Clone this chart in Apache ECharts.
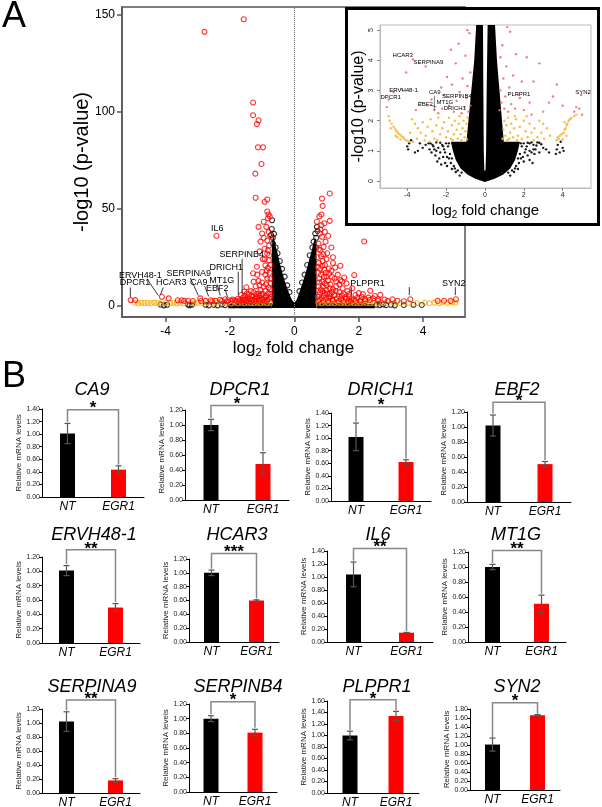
<!DOCTYPE html>
<html><head><meta charset="utf-8">
<script src="https://cdn.jsdelivr.net/npm/echarts@6/dist/echarts.min.js"></script>
<style>
html,body{margin:0;padding:0;background:#fff;}
#main{position:absolute;left:0;top:0;width:602px;height:807px;}
#inset{position:absolute;left:345px;top:7px;width:249px;height:213px;border:3px solid #000;background:#fff;}
</style></head><body>
<div id="main"></div><div id="inset"></div>
<script>
const FF = 'Liberation Sans, Arial, sans-serif';

// ---------- Panel A: main volcano (log2 FC, -log10 p) ----------
const mainXTicks = [-4, -2, 0, 2, 4];
const mainYTicks = [0, 50, 100, 150];
// dense black core regions (envelopes)
const mainCoreV = [[-0.7,-1.2],[-0.7,29],[-0.68,34],[-0.65,36],[-0.6,32],[-0.52,27],[-0.45,22],[-0.38,17.5],[-0.3,13],[-0.22,9],[-0.14,5.5],[-0.07,3],[0,1.5],[0.07,3],[0.14,6],[0.22,10],[0.3,14],[0.38,18.5],[0.46,23.5],[0.54,28.5],[0.6,32.5],[0.65,35],[0.69,32],[0.69,-1.2]];
const mainBandL = [[-2.05,-1.3],[-2.05,0.9],[-0.7,1.3],[-0.7,-1.3]];
const mainBandR = [[0.7,-1.3],[0.7,1.3],[2.5,0.9],[2.5,-1.3]];
const mainBlack = [[-0.69,44],[-0.63,37],[-0.67,35],[-0.7,39.5],[-0.66,32],[-0.58,30],[-0.52,27],[-0.45,23],[-0.38,19],[-0.3,15],[-0.22,10.5],[-0.15,7],[-0.72,36.5],
[0.7,40.6],[0.65,37.2],[0.6,33],[0.68,35],[0.72,38.5],[0.56,30],[0.48,26],[0.4,21],[0.32,16],[0.24,12],[0.16,7.5],[0.67,30],
[-4.15,0.6],[-4.05,0.2],[-3.95,0.5],[-3.3,0.6],[-3.25,0.2],[-3.18,0.5],[-2.75,0.5],[-2.65,0.2],[-2.5,0.5],[-2.38,0.2],[-2.25,0.6],[-2.15,0.3],
[2.55,0.5],[2.65,0.3],[2.75,0.6],[2.85,0.3],[3.0,0.5],[3.12,0.2],[3.4,0.4],[3.7,0.5],[3.96,0.4]];
const mainOrange = [[-4.95,1.5],[-4.85,1.3],[-4.75,1.6],[-4.65,1.4],[-4.55,1.5],[-4.45,1.3],[-4.35,1.6],[-4.25,1.4],[-4.15,1.2],[-4.0,1.5],[-3.85,1.3],[-3.75,1.5],[-3.65,1.2],[-3.55,1.5],[-3.45,1.3],[-3.2,1.4],[-3.1,1.2],[-3.0,1.5],[-2.85,1.3],[-2.7,1.5],[-2.55,1.2],[-2.4,1.5],[-2.25,1.3],[-2.1,1.5],[-1.95,1.2],[-1.85,1.6],[-1.75,1.3],[-1.65,1.5],[-1.55,1.3],[-1.45,1.6],[-1.35,1.4],[-1.25,1.3],[-1.15,1.5],[-1.05,1.3],[-0.95,1.6],[-0.85,1.4],[-0.75,1.5],
[0.75,1.5],[0.85,1.3],[0.95,1.6],[1.05,1.4],[1.15,1.5],[1.25,1.3],[1.35,1.6],[1.45,1.4],[1.55,1.5],[1.65,1.3],[1.75,1.6],[1.85,1.4],[1.95,1.5],[2.05,1.3],[2.15,1.6],[2.25,1.4],[2.35,1.3],[2.45,1.5],[2.6,1.3],[2.75,1.5],[2.9,1.3],[3.1,1.5],[3.3,1.3],[3.55,1.5],[3.8,1.3],[4.05,1.5],[4.2,1.3],[4.35,1.6],[4.5,1.4],[4.6,1.7],[4.75,1.5],[4.9,1.8],[5.0,1.6]];
const mainRed = [[-1.57,147.5],[-2.79,141],[-1.28,104.6],[-1.28,98.1],[-1.16,93.5],[-1.11,95.5],[-1.13,81.6],[-0.97,81.6],[-1.02,73],[-1.21,68],[-1.2,55.6],[-0.92,53.5],[-0.84,54.7],[-0.84,48.5],[-0.8,47],[-0.76,46],[-0.82,45],[-0.95,43.2],[-1.11,40.6],[-0.87,40.6],[-1.0,37.2],[-0.95,35],[-0.84,33.6],[-0.78,31],[-0.92,29.3],[-0.84,26.8],[-0.79,23.4],[-0.9,20.8],[-1.0,17.4],[-1.16,20.1],[-1.28,16.7],[-1.26,12.4],[-1.11,12.8],[-0.84,14.1],[-0.73,11.5],[-0.95,9.8],[-1.05,8.1],[-1.1,6.3],[-1.49,9.5],[-1.55,7.3],[-2.42,36],[-1.47,6.3],
[-0.75,8.5],[-0.8,6.5],[-0.88,5],[-0.95,4],[-1.02,5.5],[-1.15,4.5],[-1.22,3.5],[-1.3,5],[-1.38,3.5],[-1.45,4.5],[-1.52,3.2],[-1.6,4],[-1.68,3],[-0.78,3.5],[-0.85,2.5],[-0.92,2.5],[-1.0,2.8],[-1.08,2.4],[-1.18,2.6],[-1.25,2.2],[-1.35,2.4],[-1.42,2.3],[-1.5,2.4],[-1.6,2.2],[-0.76,17],[-0.86,18],[-0.98,24],[-1.08,28],[-0.8,38],[-0.75,36],[-1.05,33],[-0.88,11],[-1.2,10],[-1.35,7.5],[-0.82,28.5],
[-0.72,6],[-0.74,4.5],[-0.8,9.5],[-0.9,7.5],[-0.98,6.2],[-1.08,5.2],[-1.18,6],[-1.27,7],[-1.4,5.8],[-1.55,5.2],[-1.65,5.5],[-0.83,3.2],[-0.9,4.2],[-1.0,3.5],[-1.1,3.2],[-1.2,4.4],[-1.3,3.0],[-1.45,3.0],[-1.58,2.9],[-0.74,21],[-0.78,26],[-0.74,14],[-0.82,19.5],[-0.9,16],[-0.92,24],[-1.0,12],[-1.08,10.5],[-1.15,16],[-1.7,2.3],[-1.75,3.6],[-1.92,3.2],[-2.1,2.3],[-2.25,2.4],[-2.55,2.3],[-2.9,2.4],[-3.15,2.4],[-3.3,2.6],
[-5.08,2.9],[-4.94,2.9],[-4.11,4.6],[-3.9,3.8],[-3.62,2.8],[-3.5,2.8],[-3.42,2.5],[-2.92,3.8],[-2.75,2.5],[-2.6,2.8],[-2.45,2.5],[-2.3,3.1],[-2.15,3.3],[-2.05,2.8],[-1.95,2.5],[-1.85,2.8],[-1.78,2.4],
[1.1,57.8],[0.86,55.2],[0.88,51.4],[0.84,47],[0.7,43.2],[0.84,41.5],[0.93,42.5],[1.1,43.7],[0.81,39.3],[0.79,37.2],[0.86,35.5],[2.17,33.1],[0.75,32],[0.81,28.6],[0.91,30.3],[1.02,27],[1.27,19.7],[1.43,20.6],[1.07,19.2],[1.86,15.8],[1.43,13.2],[1.17,14.9],[2.36,7.7],[2.67,5.6],[2.13,6],[1.77,3.3],[3.6,3.3],[2.6,3.3],[2.8,3.2],[3.05,3.3],[5.02,3.3],[4.85,2.5],[4.65,2.6],[4.45,2.5],
[0.72,25],[0.76,22],[0.8,19],[0.74,17],[0.88,23],[0.95,21],[0.98,17],[0.78,14],[0.86,12.5],[0.92,15],[1.05,13],[1.12,11],[0.75,10],[0.82,8.5],[0.9,9.8],[1.0,8],[1.2,8.5],[1.3,10],[1.4,7],[1.5,9],[1.55,6],[1.25,5.5],[1.1,6],[0.95,6.5],[0.78,5.5],[0.85,4],[0.98,3.5],[1.08,4.2],[1.18,3.2],[1.32,3.8],[1.45,3.3],[1.6,3.5],[1.7,4.5],[1.85,3.2],[1.95,4],[2.05,3],[2.2,3.4],[2.35,3],[2.45,3.8],[0.74,2.8],[0.9,2.6],[1.05,2.4],[1.2,2.5],[1.38,2.3],[1.52,2.5],[1.68,2.3],[1.62,11.5],[1.35,16],[1.2,22],[0.97,33],[1.05,36],[0.78,46],[1.0,24],[1.65,7.5],[1.8,9],[2.0,6.5],[2.5,5],[1.15,30],
[0.73,20],[0.77,12],[0.83,16],[0.87,20.5],[0.93,18.5],[1.0,15],[1.08,16.5],[1.15,18],[1.25,14],[1.3,12.5],[1.4,11],[1.48,12.5],[1.55,14.5],[1.0,10.5],[1.1,9],[1.18,7],[1.28,7.5],[1.38,5],[1.48,5.2],[1.58,4.5],[0.8,7],[0.88,7.5],[0.92,5.2],[1.02,6.2],[1.12,5],[0.73,4.5],[0.79,3.2],[0.95,11.5],[0.83,25.5],[0.9,26.5],[0.76,29],[0.95,38],[1.2,25],[1.7,6],[1.9,5.5],[2.1,4.5],[2.3,4.2],[1.75,2.5],[1.9,2.4],[2.05,2.2],[2.2,2.4],[2.6,2.4],[2.9,2.5],[3.2,2.6],[3.4,2.3]];
// gene annotations: [name, textX, textY, leaderX1, leaderY1, leaderX2, leaderY2]
const mainLabels = [
 ['IL6',-2.39,39.5],
 ['SERPINB4',-1.63,26.3,-1.62,24.2,-1.62,6.5],
 ['DRICH1',-2.11,19.9,-1.74,17.5,-1.74,5.5],
 ['ERVH48-1',-4.78,15.8,-4.57,13.8,-4.22,5.2],
 ['SERPINA9',-3.28,16.8,-3.23,14.3,-2.98,5.3],
 ['MT1G',-2.25,13.2,-2.4,11,-2.3,5.3],
 ['DPCR1',-4.95,11.7,-5.09,9.4,-5.09,4.5],
 ['HCAR3',-3.82,11.7,-4.07,9.3,-4.16,5.6],
 ['CA9',-2.97,12.2,-2.78,10.0,-2.66,4.8],
 ['EBF2',-2.39,9.1,-2.14,8,-2.07,4.3],
 ['PLPPR1',2.27,11.4,1.77,9.6,1.77,5.5],
 ['SYN2',4.95,11.4,5.0,9.6,5.0,5.5],
 ['',3.57,9.6,3.57,9.6,3.57,5.5]
];

// ---------- Inset volcano ----------
const insetXTicks = [-4, -2, 0, 2, 4];
const insetYTicks = [0, 1, 2, 3, 4, 5];
const insetCore = [[0,-0.03],[-0.5,0.08],[-0.9,0.22],[-1.25,0.42],[-1.5,0.7],[-1.65,1.0],[-1.75,1.3],[-0.95,1.3],[-0.85,2.0],[-0.7,3.0],[-0.55,4.0],[-0.45,5.17],[-0.1,5.17],[-0.08,3.0],[-0.06,1.0],[-0.03,0.35],[0.03,0.35],[0.06,1.0],[0.09,3.0],[0.14,5.17],[0.52,5.17],[0.62,4.0],[0.75,3.0],[0.88,2.0],[0.97,1.3],[1.8,1.3],[1.7,1.0],[1.55,0.7],[1.3,0.42],[0.95,0.22],[0.5,0.08]];
const insetBlack = [[-2.9,1.25],[-2.7,1.2],[-2.5,1.28],[-2.6,1.05],[-2.4,1.1],[-2.3,0.95],[-2.2,1.2],[-2.75,0.95],[-2.55,0.85],[-2.35,0.75],[-2.15,0.8],[-2.05,0.6],[-1.95,0.5],[-2.25,0.55],[-1.7,0.4],[-1.5,0.3],[-1.3,0.18],[-3.05,1.2],[-3.2,1.1],[-3.35,1.25],[-3.45,1.0],[-3.6,0.95],[-3.95,1.05],[-4.0,1.15],[-3.9,1.25],[-3.8,1.35],[-2.1,1.05],[-2.45,0.65],[-2.85,1.05],
[-1.8,0.9],[-1.9,1.15],[-2.0,1.25],[-1.75,0.6],[-1.6,0.5],[-1.85,0.75],[-2.15,1.15],[-2.3,1.27],[-2.05,0.95],[-1.95,0.8],[-2.5,1.0],[-2.65,1.15],[-2.8,1.25],[-1.4,0.35],[-1.55,0.42],[-1.2,0.28],[-1.85,1.25],[-1.7,0.75],
[2.3,1.25],[2.5,1.2],[2.7,1.28],[2.9,1.22],[3.0,1.1],[2.6,1.05],[2.4,0.95],[2.2,0.85],[2.0,0.65],[2.3,0.7],[2.55,0.9],[2.8,0.95],[3.15,1.05],[3.3,0.95],[3.65,0.9],[3.7,1.05],[3.75,1.2],[3.85,0.95],[4.0,1.1],[4.05,1.0],[3.9,1.3],[1.7,0.4],[1.5,0.3],[1.3,0.18],[2.1,1.05],[2.45,0.6],
[1.8,0.9],[1.9,1.15],[2.0,1.25],[1.75,0.6],[1.6,0.5],[1.85,0.75],[2.15,1.15],[2.3,1.0],[2.05,0.95],[1.95,0.8],[2.5,1.05],[2.65,1.18],[2.8,1.27],[1.4,0.35],[1.55,0.42],[1.2,0.28],[2.4,1.28],[2.2,1.27],[1.85,1.25],[1.7,0.75]];
const insetOrange = [[-4.95,2.15],[-4.9,2.0],[-4.8,1.9],[-4.7,1.8],[-4.62,1.72],[-4.55,1.65],[-4.48,1.6],[-4.4,1.55],[-4.3,1.5],[-4.22,1.45],[-4.15,1.4],[-4.05,1.35],[-3.95,1.32],[-3.7,1.3],[-4.85,1.75],[-4.6,1.5],[-4.5,1.45],[-4.35,1.38],
[-3.75,2.05],[-3.6,1.9],[-3.45,1.75],[-3.3,1.6],[-3.2,1.95],[-3.05,1.5],[-2.95,1.8],[-2.8,2.05],[-2.7,1.65],[-2.6,1.4],[-2.5,1.85],[-2.4,2.1],[-2.3,1.55],[-2.2,1.75],[-2.1,1.95],[-2.0,1.45],[-1.9,1.65],[-1.85,2.1],[-1.75,1.4],[-1.7,1.85],[-1.6,1.55],[-1.55,2.0],[-1.45,1.7],[-1.4,1.4],[-1.35,1.9],[-1.3,2.15],[-1.25,1.55],[-1.15,1.75],[-1.1,2.0],[-1.05,1.45],[-1.0,1.65],[-0.95,1.9],[-0.92,1.38],[-0.9,2.1],[-1.2,1.35],[-1.65,1.35],[-2.45,1.35],[-3.5,1.4],[-3.1,1.35],[-2.85,1.3],[-3.85,1.6],
[0.9,1.4],[0.95,1.7],[1.0,2.0],[1.05,1.5],[1.1,1.85],[1.15,1.35],[1.2,2.1],[1.3,1.6],[1.35,1.9],[1.45,1.45],[1.5,1.75],[1.6,2.05],[1.7,1.5],[1.8,1.8],[1.9,1.4],[2.0,2.0],[2.1,1.65],[2.2,1.45],[2.3,1.9],[2.4,1.6],[2.55,1.75],[2.7,1.45],[2.8,2.0],[2.9,1.6],[3.05,1.4],[3.2,1.75],[3.35,1.5],[1.25,1.4],[1.65,1.35],[2.5,1.35],[3.0,1.9],[1.55,2.15],[2.15,2.15],
[3.7,1.35],[3.8,1.4],[3.85,1.5],[3.95,1.55],[4.05,1.6],[4.1,1.7],[4.15,1.75],[4.2,1.85],[4.25,1.9],[4.3,2.0],[4.38,2.05],[4.45,2.1],[4.6,2.15],[4.7,2.2],[4.0,1.38],[4.2,1.5],[3.75,1.45],[4.1,1.95]];
const insetRed = [[-5.05,2.45],[-4.95,2.7],[-4.7,2.95],[-4.3,3.05],[-4.05,3.6],[-3.7,4.03],[-3.05,3.8],[-2.95,2.5],[-2.75,2.7],[-2.6,2.35],[-2.4,2.25],[-2.25,3.1],[-2.1,2.85],[-1.95,3.45],[-1.85,2.5],[-1.7,3.2],[-1.6,2.3],[-1.5,3.9],[-1.45,2.65],[-1.35,4.55],[-1.3,2.95],[-1.2,2.25],[-1.15,3.4],[-1.05,2.45],[-1.0,4.15],[-0.95,2.75],[-0.9,3.15],[-0.85,2.3],[-0.8,4.9],[-0.75,3.6],[-0.75,2.5],[-2.2,2.4],[-3.3,2.6],[-3.55,2.35],[-1.75,4.35],[-0.9,5.0],
[0.75,2.35],[0.8,3.0],[0.85,2.6],[0.9,4.5],[0.95,3.4],[1.0,2.4],[1.05,2.8],[1.1,3.8],[1.2,2.3],[1.25,3.1],[1.3,4.95],[1.35,2.55],[1.45,3.5],[1.55,2.4],[1.6,4.2],[1.7,2.85],[1.8,2.75],[1.9,3.3],[2.0,2.35],[2.15,4.1],[2.3,2.6],[2.5,3.3],[2.8,3.9],[3.0,2.3],[3.3,2.6],[3.7,3.2],[3.5,2.8],[4.0,2.5],[4.6,2.3],[4.7,2.45],[4.85,2.4],[4.95,2.85],[5.0,2.2],[1.15,5.1],[2.4,2.2],[0.8,4.1]];
const insetLabels = [
 ['HCAR3',-4.23,4.16],['SERPINA9',-2.91,3.92],['ERVH48-1',-4.19,3.01],['DPCR1',-4.85,2.76],
 ['CA9',-2.58,2.93,-2.6,2.82,-2.6,2.35],['SERPINB4',-1.44,2.81],['MT1G',-2.06,2.62],
 ['EBF2',-3.07,2.55,-2.8,2.52,-2.5,2.45],['DRICH1',-1.55,2.4],['PLPPR1',1.75,2.88],['SYN2',5.05,2.93]
];

// ---------- Panel B: qPCR bars ----------
const genes = ['CA9','DPCR1','DRICH1','EBF2','ERVH48-1','HCAR3','IL6','MT1G','SERPINA9','SERPINB4','PLPPR1','SYN2'];
const groups = ['NT','EGR1'];
const ntMean  = [1.01,1.00,1.02,1.02,1.01,1.00,1.04,1.00,1.02,1.00,1.00,1.01];
const ntErr   = [0.16,0.075,0.22,0.14,0.07,0.04,0.19,0.035,0.14,0.04,0.075,0.145];
const egrMean = [0.435,0.48,0.62,0.505,0.495,0.60,0.143,0.51,0.18,0.81,1.34,1.66];
const egrErr  = [0.06,0.15,0.035,0.035,0.055,0.01,0.005,0.115,0.025,0.045,0.08,0.015];
const stars   = ['*','*','*','*','**','***','**','**','**','*','*','*'];
const yMax    = [1.4,1.2,1.4,1.2,1.2,1.2,1.4,1.2,1.2,1.2,1.6,1.8];
const bracketTop = [1.39,1.26,1.50,1.33,1.30,1.28,1.44,1.22,1.33,1.23,1.62,1.94];
// layout: [left, top, width, height, titleX, titleY]
const barLayout = [
 [42,409,102,88,92,390],[185,410,104,90,240,390],[331,413,100,88,381,390],[467,412,104,90,517,390],
 [42,557,98,86,94,535],[189,559,90,83,237,535],[327,551,106,91,378,535],[468,552,98,90,516,535],
 [42,709,98,84,92,687],[189,704,88,88,238,687],[327,701,92,92,377,687],[470,709,90,81,517,687]
];

function txt(x, y, text, font, align) {
  const a = align || 'center';
  return {type:'text', x:x, y:y, z:100, style:{text:text, font:font, fill:'#000', textAlign:a, textVerticalAlign:'middle', align:a, verticalAlign:'middle'}};
}
function polySeries(polys, xi, yi) {
  return {type:'custom', xAxisIndex:xi, yAxisIndex:yi, clip:true, silent:true, z:1,
    data: polys.map(p => p[0]),
    renderItem: (params, api) => ({type:'polygon', shape:{points: polys[params.dataIndex].map(p => api.coord(p))}, style:{fill:'#000'}})};
}
function labelSeries(labels, xi, yi, font, lw) {
  return {type:'custom', xAxisIndex:xi, yAxisIndex:yi, clip:false, silent:true, z:20,
    data: labels.map(r => [r[1], r[2]]),
    renderItem: (params, api) => {
      const r = labels[params.dataIndex];
      const ch = [];
      if (r[0]) { const t = api.coord([r[1], r[2]]);
        ch.push({type:'text', x:t[0], y:t[1], style:{text:r[0], font:font, fill:'#000', textAlign:'center', textVerticalAlign:'middle', align:'center', verticalAlign:'middle'}}); }
      if (r.length > 3) { const a = api.coord([r[3], r[4]]), b = api.coord([r[5], r[6]]);
        ch.push({type:'line', shape:{x1:a[0], y1:a[1], x2:b[0], y2:b[1]}, style:{stroke:'#222', lineWidth:lw}}); }
      return {type:'group', children:ch};
    }};
}
function scat(data, xi, yi, color, size, hollow, z) {
  return {type:'scatter', xAxisIndex:xi, yAxisIndex:yi, data:data, symbol:'circle', symbolSize:size, silent:true, z:z,
    itemStyle: hollow ? {color:'rgba(0,0,0,0)', borderColor:color, borderWidth:1.1} : {color:color, opacity:0.9}};
}

const opt = {animation:false, textStyle:{fontFamily:FF}, grid:[], xAxis:[], yAxis:[], series:[], graphic:[]};
// main volcano
opt.grid.push({left:122, top:7, width:343, height:310, show:true, borderColor:'#555', borderWidth:1.5, outerBoundsMode:'none', containLabel:false});
opt.xAxis.push({type:'value', gridIndex:0, min:-5.35, max:5.3,
  axisLine:{show:true, onZero:false, lineStyle:{color:'#555', width:1.5}},
  axisTick:{show:true, customValues:mainXTicks, length:5, lineStyle:{color:'#555', width:1.5}},
  axisLabel:{customValues:mainXTicks, fontSize:12, color:'#000', margin:9},
  splitLine:{show:false},
  name:'log{s|2} fold change', nameLocation:'middle', nameGap:21, nameMoveOverlap:false,
  nameTextStyle:{fontSize:17, color:'#000', rich:{s:{fontSize:11, padding:[9,0,0,0]}}}});
opt.yAxis.push({type:'value', gridIndex:0, min:-5.8, max:153.8,
  axisLine:{show:true, onZero:false, lineStyle:{color:'#555', width:1.5}},
  axisTick:{show:true, customValues:mainYTicks, length:5, lineStyle:{color:'#555', width:1.5}},
  axisLabel:{customValues:mainYTicks, fontSize:12, color:'#000', margin:7},
  splitLine:{show:false},
  name:'-log10 (p-value)', nameLocation:'middle', nameGap:30, nameMoveOverlap:false, nameTextStyle:{fontSize:20, color:'#000'}});
opt.series.push(polySeries([mainCoreV, mainBandL, mainBandR], 0, 0));
opt.series.push(scat(mainBlack, 0, 0, '#000', 5, true, 3));
opt.series.push(scat(mainOrange, 0, 0, '#ffa500', 5, true, 4));
const redS = scat(mainRed, 0, 0, '#ff0000', 5, true, 5);
redS.markLine = {silent:true, symbol:'none', label:{show:false}, lineStyle:{type:'dotted', color:'#666', width:1}, data:[{xAxis:0}]};
opt.series.push(redS);
opt.series.push(labelSeries(mainLabels, 0, 0, '9px ' + FF, 0.9));

opt.graphic.push(txt(14, 17, 'A', '36px ' + FF));
opt.graphic.push(txt(14, 377, 'B', '36px ' + FF));

// bar charts
for (let i = 0; i < genes.length; i++) {
  const gi = i + 1, L = barLayout[i];
  opt.grid.push({left:L[0], top:L[1], width:L[2], height:L[3], outerBoundsMode:'none', containLabel:false});
  opt.xAxis.push({type:'category', gridIndex:gi, data:groups,
    axisLine:{show:true, lineStyle:{color:'#000', width:1}}, axisTick:{show:false},
    axisLabel:{fontStyle:'italic', fontSize:12, color:'#000', margin:4}});
  opt.yAxis.push({type:'value', gridIndex:gi, min:0, max:yMax[i], interval:0.2,
    axisLine:{show:true, lineStyle:{color:'#000', width:1}},
    axisTick:{show:true, length:3, lineStyle:{color:'#000'}},
    axisLabel:{fontSize:7, color:'#222', margin:2, formatter:v => v.toFixed(2)},
    splitLine:{show:false},
    name:'Relative mRNA levels', nameLocation:'middle', nameGap:19, nameMoveOverlap:false, nameTextStyle:{fontSize:8, color:'#222'}});
  opt.series.push({type:'bar', xAxisIndex:gi, yAxisIndex:gi, barWidth:15, silent:true,
    data:[{value:ntMean[i], itemStyle:{color:'#000'}}, {value:egrMean[i], itemStyle:{color:'#ff0000'}}]});
  opt.series.push({type:'custom', xAxisIndex:gi, yAxisIndex:gi, clip:false, silent:true, z:5,
    data:[[0, ntMean[i], ntErr[i]], [1, egrMean[i], egrErr[i]]],
    encode:{x:0, y:1},
    renderItem:(params, api) => {
      const x = api.value(0), m = api.value(1), e = api.value(2);
      const t = api.coord([x, m + e]), b = api.coord([x, m - e]);
      const st = {stroke:'#555', lineWidth:1.2};
      return {type:'group', children:[
        {type:'line', shape:{x1:t[0], y1:t[1], x2:b[0], y2:b[1]}, style:st},
        {type:'line', shape:{x1:t[0]-3, y1:t[1], x2:t[0]+3, y2:t[1]}, style:st},
        {type:'line', shape:{x1:b[0]-3, y1:b[1], x2:b[0]+3, y2:b[1]}, style:st}]};
    }});
  opt.series.push({type:'custom', xAxisIndex:gi, yAxisIndex:gi, clip:false, silent:true, z:6,
    data:[[0, bracketTop[i]]],
    renderItem:(params, api) => {
      const top = bracketTop[i];
      const p1 = api.coord([0, ntMean[i] + ntErr[i] + 0.02]);
      const p2 = api.coord([0, top]);
      const p3 = api.coord([1, top]);
      const p4 = api.coord([1, egrMean[i] + egrErr[i] + 0.02]);
      return {type:'group', children:[
        {type:'polyline', shape:{points:[p1, p2, p3, p4]}, style:{stroke:'#888', lineWidth:1.5, fill:null}},
        {type:'text', x:(p2[0] + p3[0]) / 2, y:p2[1] - 1, style:{text:stars[i], font:'bold 17px ' + FF, fill:'#000', textAlign:'center', textVerticalAlign:'middle', align:'center', verticalAlign:'middle'}}]};
    }});
  opt.graphic.push(txt(L[4], L[5], genes[i], 'italic 18px ' + FF));
}
const chart = echarts.init(document.getElementById('main'), null, {renderer:'canvas'});
chart.setOption(opt);

// inset
const iopt = {animation:false, textStyle:{fontFamily:FF},
  grid:{left:32, top:15, width:211, height:163, show:true, borderColor:'#bbb', borderWidth:1, outerBoundsMode:'none', containLabel:false},
  xAxis:{type:'value', min:-5.4, max:5.46,
    axisLine:{show:true, onZero:false, lineStyle:{color:'#bbb'}},
    axisTick:{show:true, customValues:insetXTicks, length:3, lineStyle:{color:'#888'}},
    axisLabel:{customValues:insetXTicks, fontSize:7, color:'#222', margin:4},
    splitLine:{show:false},
    name:'log{s|2} fold change', nameLocation:'middle', nameGap:14, nameMoveOverlap:false,
    nameTextStyle:{fontSize:15, color:'#000', rich:{s:{fontSize:10, padding:[8,0,0,0]}}}},
  yAxis:{type:'value', min:-0.23, max:5.17,
    axisLine:{show:true, onZero:false, lineStyle:{color:'#bbb'}},
    axisTick:{show:true, customValues:insetYTicks, length:3, lineStyle:{color:'#888'}},
    axisLabel:{customValues:insetYTicks, fontSize:7, color:'#222', margin:5, rotate:90},
    splitLine:{show:false},
    name:'-log10 (p-value)', nameLocation:'middle', nameGap:13, nameMoveOverlap:false, nameTextStyle:{fontSize:16, color:'#000'}},
  series:[
    polySeries([insetCore], 0, 0),
    scat(insetBlack, 0, 0, '#000', 2.4, false, 3),
    scat(insetOrange, 0, 0, '#f7b431', 2.4, false, 4),
    scat(insetRed, 0, 0, '#f56b6b', 2.4, false, 5),
    labelSeries(insetLabels, 0, 0, '6px ' + FF, 0.6)
  ]};
const ichart = echarts.init(document.getElementById('inset'), null, {renderer:'canvas'});
ichart.setOption(iopt);
</script>
</body></html>
